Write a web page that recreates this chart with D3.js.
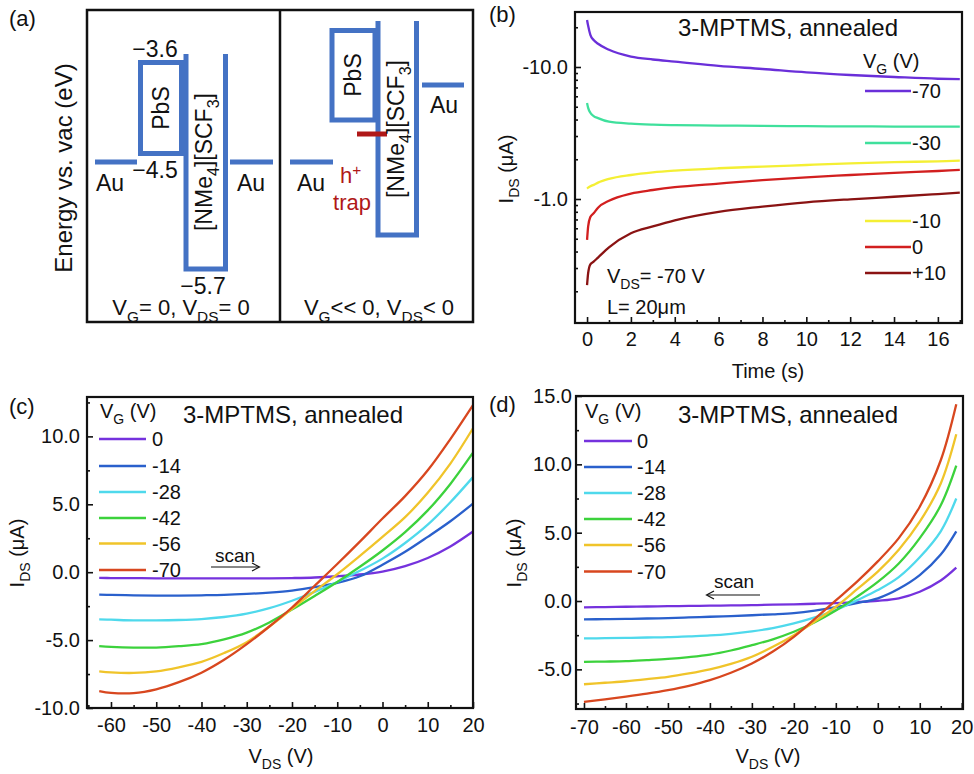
<!DOCTYPE html>
<html><head><meta charset="utf-8">
<script src="https://cdn.jsdelivr.net/npm/d3@7"></script>
<style>
body{margin:0;background:#fff}
svg{display:block;background:#fff}
text{font-family:"Liberation Sans",Arial,Helvetica,sans-serif;fill:#111}
</style>
</head><body>
<svg id="fig" width="974" height="774"></svg>
<script>
// ================= DATA =================
// Panel (a): energy levels (eV) labelled on the schematic
const levelLabels = ["\u22123.6", "\u22124.5", "\u22125.7"];

// Panel (b): transient I_DS (uA) vs time (s) at V_DS = -70 V
const timeB = [0, 0.05, 0.15, 0.3, 0.5, 1, 2, 3, 4, 6, 8, 10, 12, 14, 16, 17];
const vgB = ["-70", "-30", "-10", "0", "+10"];
const iB_m70 = [-22.7, -20.5, -17.5, -16.0, -15.0, -13.5, -12.0, -11.4, -11.0, -10.2, -9.66, -9.1, -8.7, -8.4, -8.15, -8.1];
const iB_m30 = [-5.33, -4.9, -4.5, -4.25, -4.1, -3.85, -3.72, -3.66, -3.63, -3.6, -3.58, -3.56, -3.55, -3.54, -3.53, -3.53];
const iB_m10 = [-1.2, -1.22, -1.25, -1.28, -1.33, -1.42, -1.52, -1.59, -1.64, -1.71, -1.76, -1.81, -1.86, -1.9, -1.93, -1.95];
const iB_0   = [-0.49, -0.62, -0.73, -0.78, -0.86, -0.97, -1.1, -1.17, -1.23, -1.31, -1.39, -1.46, -1.52, -1.58, -1.63, -1.66];
const iB_p10 = [-0.223, -0.274, -0.32, -0.335, -0.36, -0.43, -0.55, -0.62, -0.69, -0.80, -0.875, -0.944, -0.995, -1.04, -1.09, -1.116];
const yTicksB = [-10, -1];
const xTicksB = [0, 2, 4, 6, 8, 10, 12, 14, 16];

// Panel (c): output curves, scan -> (forward)
const vdsC = [-62.6, -60, -55, -50, -45, -40, -35, -30, -25, -20, -15, -10, -5, 0, 5, 10, 15, 20];
const vgCD = ["0", "-14", "-28", "-42", "-56", "-70"];
const iC_0   = [-0.42, -0.43, -0.44, -0.45, -0.45, -0.45, -0.45, -0.45, -0.45, -0.43, -0.39, -0.3, -0.17, 0.05, 0.45, 1.05, 1.9, 3.0];
const iC_m14 = [-1.65, -1.67, -1.7, -1.72, -1.72, -1.7, -1.67, -1.6, -1.5, -1.35, -1.1, -0.78, -0.3, 0.55, 1.5, 2.6, 3.75, 5.05];
const iC_m28 = [-3.48, -3.5, -3.55, -3.55, -3.52, -3.45, -3.3, -3.05, -2.65, -2.1, -1.45, -0.72, 0.1, 1.0, 2.15, 3.5, 5.15, 7.0];
const iC_m42 = [-5.45, -5.5, -5.55, -5.55, -5.45, -5.3, -4.95, -4.45, -3.7, -2.75, -1.75, -0.72, 0.4, 1.6, 2.95, 4.55, 6.5, 8.8];
const iC_m56 = [-7.3, -7.38, -7.42, -7.3, -7.0, -6.6, -5.95, -5.15, -4.0, -2.7, -1.4, -0.15, 1.2, 2.6, 4.05, 5.85, 8.0, 10.6];
const iC_m70 = [-8.75, -8.88, -8.9, -8.62, -8.1, -7.4, -6.45, -5.3, -4.0, -2.6, -1.0, 0.6, 2.25, 3.95, 5.6, 7.5, 9.8, 12.3];
const xTicksC = [-60, -50, -40, -30, -20, -10, 0, 10, 20];
const yTicksC = [-10, -5, 0, 5, 10];

// Panel (d): output curves, scan <- (reverse)
const vdsD = [-70, -65, -60, -55, -50, -45, -40, -35, -30, -25, -20, -15, -10, -5, 0, 5, 10, 15, 18.7];
const iD_0   = [-0.46, -0.44, -0.42, -0.4, -0.38, -0.36, -0.34, -0.32, -0.3, -0.27, -0.24, -0.2, -0.15, -0.08, 0.02, 0.2, 0.68, 1.5, 2.44];
const iD_m14 = [-1.34, -1.33, -1.31, -1.28, -1.25, -1.2, -1.15, -1.1, -1.04, -0.97, -0.88, -0.7, -0.45, -0.15, 0.2, 0.9, 1.9, 3.4, 5.1];
const iD_m28 = [-2.74, -2.72, -2.7, -2.67, -2.64, -2.58, -2.52, -2.4, -2.22, -1.98, -1.64, -1.2, -0.66, 0.05, 0.8, 1.75, 3.2, 5.1, 7.5];
const iD_m42 = [-4.45, -4.43, -4.4, -4.32, -4.23, -4.1, -3.92, -3.62, -3.23, -2.8, -2.25, -1.55, -0.7, 0.3, 1.4, 2.75, 4.6, 7.0, 9.9];
const iD_m56 = [-6.09, -5.98, -5.87, -5.72, -5.55, -5.3, -5.0, -4.6, -4.08, -3.35, -2.5, -1.5, -0.42, 0.85, 2.15, 3.75, 5.8, 8.6, 12.2];
const iD_m70 = [-7.38, -7.2, -7.0, -6.78, -6.52, -6.2, -5.79, -5.25, -4.57, -3.7, -2.62, -1.3, 0.05, 1.4, 2.9, 4.6, 6.9, 10.3, 14.4];
const xTicksD = [-70, -60, -50, -40, -30, -20, -10, 0, 10, 20];
const yTicksD = [-5, 0, 5, 10, 15];

// ================= STYLE / LAYOUT =================
const colB = ["#6a2fd9", "#3fe09c", "#f4ef34", "#d21f1f", "#8a1313"];
const colCD = ["#7532dd", "#2a60cc", "#4fd9ec", "#3cd23c", "#f0c42a", "#d8471f"];
const BLUE = "#4472c4", TRAP = "#b01818";
const FF = '"Liberation Sans", Arial, Helvetica, sans-serif';

const svg = d3.select("#fig");

function rich(g, x, y, parts, size, o = {}) {
  const t = g.append("text").attr("x", x).attr("y", y).attr("font-size", size);
  if (o.anchor) t.attr("text-anchor", o.anchor);
  if (o.rotate) t.attr("transform", `rotate(-90 ${x} ${y})`);
  if (o.fill) t.style("fill", o.fill);
  let state = 0; // 0 normal, 1 sub, -1 sup
  parts.forEach(p => {
    const [txt, kind] = Array.isArray(p) ? p : [p, 0];
    const s = t.append("tspan").text(txt);
    const shift = size * 0.3;
    let dy = 0;
    if (state === 1) dy -= shift; if (state === -1) dy += size * 0.38;
    if (kind === 1) { dy += shift; s.attr("font-size", size * 0.7); }
    if (kind === -1) { dy -= size * 0.38; s.attr("font-size", size * 0.7); }
    if (dy !== 0) s.attr("dy", dy);
    state = kind;
  });
  return t;
}

function axes(g, xs, ys, xMaj, xMin, yMaj, yMin, xf, yf, xpad, ypad) {
  const [x0, x1] = xs.range();
  const [y0, y1] = ys.range();
  const style = s => {
    s.select(".domain").remove();
    s.attr("font-size", 20).attr("font-family", FF);
    s.selectAll("line").attr("stroke", "#111").attr("stroke-width", 1.6);
  };
  g.append("g").attr("transform", `translate(0,${y0})`)
    .call(d3.axisBottom(xs).tickValues(xMin).tickSize(-3).tickFormat("")).call(style);
  g.append("g").attr("transform", `translate(0,${y0})`)
    .call(d3.axisBottom(xs).tickValues(xMaj).tickSize(-6).tickPadding(xpad).tickFormat(xf)).call(style);
  g.append("g").attr("transform", `translate(${x0},0)`)
    .call(d3.axisLeft(ys).tickValues(yMin).tickSize(-3).tickFormat("")).call(style);
  g.append("g").attr("transform", `translate(${x0},0)`)
    .call(d3.axisLeft(ys).tickValues(yMaj).tickSize(-6).tickPadding(ypad).tickFormat(yf)).call(style);
  g.append("rect").attr("x", x0).attr("y", y1).attr("width", x1 - x0).attr("height", y0 - y1)
    .attr("fill", "none").attr("stroke", "#111").attr("stroke-width", 2.2);
}

function range(a, b, s) { const r = []; for (let v = a; v <= b + 1e-9; v += s) r.push(+v.toFixed(6)); return r; }

// ================= PANEL (a) =================
const ga = svg.append("g");
ga.append("text").attr("x", 9).attr("y", 26).attr("font-size", 22).text("(a)");
ga.append("rect").attr("x", 87).attr("y", 10).attr("width", 386).attr("height", 312)
  .attr("fill", "none").attr("stroke", "#111").attr("stroke-width", 2.5);
ga.append("line").attr("x1", 280).attr("x2", 280).attr("y1", 10).attr("y2", 322)
  .attr("stroke", "#111").attr("stroke-width", 2.5);
rich(ga, 72, 168, ["Energy vs. vac (eV)"], 24, { anchor: "middle", rotate: true });

const bl = (x1, y1, x2, y2, c = BLUE, w = 5) =>
  ga.append("line").attr("x1", x1).attr("y1", y1).attr("x2", x2).attr("y2", y2)
    .attr("stroke", c).attr("stroke-width", w).attr("stroke-linecap", "butt");
const bp = (pts) => ga.append("path").attr("d", d3.line()(pts)).attr("fill", "none")
  .attr("stroke", BLUE).attr("stroke-width", 5).attr("stroke-linejoin", "miter");

// left schematic (V_G = 0)
bl(95, 162, 137, 162);
ga.append("rect").attr("x", 140.5).attr("y", 62.5).attr("width", 41).attr("height", 91)
  .attr("fill", "none").attr("stroke", BLUE).attr("stroke-width", 5);
bp([[186, 54], [186, 269], [225.5, 269], [225.5, 54]]);
bl(230, 162, 273, 162);
rich(ga, 155, 57, [levelLabels[0]], 23, { anchor: "middle" });
rich(ga, 155, 178, [levelLabels[1]], 23, { anchor: "middle" });
rich(ga, 203, 294, [levelLabels[2]], 23, { anchor: "middle" });
rich(ga, 96, 191, ["Au"], 23);
rich(ga, 237, 191, ["Au"], 23);
rich(ga, 169, 108, ["PbS"], 23, { anchor: "middle", rotate: true });
rich(ga, 212, 162, ["[NMe", ["4", 1], "][SCF", ["3", 1], "]"], 23, { anchor: "middle", rotate: true });
rich(ga, 181, 315, ["V", ["G", 1], "= 0, V", ["DS", 1], "= 0"], 22, { anchor: "middle" });

// right schematic (V_G << 0)
bl(290, 162, 333, 162);
ga.append("rect").attr("x", 332).attr("y", 30.5).attr("width", 43).attr("height", 89.5)
  .attr("fill", "none").attr("stroke", BLUE).attr("stroke-width", 5);
bp([[378, 21], [378, 235], [416.5, 235], [416.5, 21]]);
bl(422, 85, 464, 85);
bl(357, 134, 387, 134, TRAP, 5);
rich(ga, 297, 191, ["Au"], 23);
rich(ga, 430, 113, ["Au"], 23);
rich(ga, 361, 75, ["PbS"], 23, { anchor: "middle", rotate: true });
rich(ga, 404, 129, ["[NMe", ["4", 1], "][SCF", ["3", 1], "]"], 23, { anchor: "middle", rotate: true });
rich(ga, 340, 183, ["h", ["+", -1]], 22, { fill: TRAP });
rich(ga, 352, 210, ["trap"], 22, { anchor: "middle", fill: TRAP });
rich(ga, 379, 315, ["V", ["G", 1], "<< 0, V", ["DS", 1], "< 0"], 22, { anchor: "middle" });

// ================= PANEL (b) =================
const gb = svg.append("g");
const bx = d3.scaleLinear().domain([-0.55, 17.1]).range([575, 962]);
const by = d3.scaleLog().domain([0.115, 26.1]).range([323, 12]);
gb.append("text").attr("x", 489).attr("y", 22).attr("font-size", 22).text("(b)");
const seriesB = [iB_m70, iB_m30, iB_m10, iB_0, iB_p10];
const lineB = d3.line().x(d => bx(d[0])).y(d => by(Math.abs(d[1]))).curve(d3.curveMonotoneX);
seriesB.forEach((s, i) => {
  gb.append("path").attr("d", lineB(timeB.map((t, k) => [t, s[k]])))
    .attr("fill", "none").attr("stroke", colB[i]).attr("stroke-width", 2.3);
});
const minorB = [0.2,0.3,0.4,0.5,0.6,0.7,0.8,0.9,2,3,4,5,6,7,8,9,20];
axes(gb, bx, by, xTicksB, range(1, 17, 2), yTicksB.map(Math.abs), minorB,
  d => String(d), d => "-" + d.toFixed(1), 9, 7);
rich(gb, 788, 36, ["3-MPTMS, annealed"], 24, { anchor: "middle" });
rich(gb, 863, 68, ["V", ["G", 1], " (V)"], 20);
const legYB = [91, 143, 221, 247, 273];
vgB.forEach((v, i) => {
  gb.append("line").attr("x1", 865).attr("x2", 911).attr("y1", legYB[i]).attr("y2", legYB[i])
    .attr("stroke", colB[i]).attr("stroke-width", 2.3);
  rich(gb, 912, legYB[i] + 7, [v], 20);
});
rich(gb, 607, 283, ["V", ["DS", 1], "= -70 V"], 20);
rich(gb, 607, 314, ["L= 20\u03bcm"], 20);
rich(gb, 513, 169, ["I", ["DS", 1], " (\u03bcA)"], 20, { anchor: "middle", rotate: true });
rich(gb, 768, 378, ["Time (s)"], 20, { anchor: "middle" });

// ================= PANEL (c) =================
const gc = svg.append("g");
const cx = d3.scaleLinear().domain([-65.3, 20]).range([87, 473]);
const cy = d3.scaleLinear().domain([-10, 12.9]).range([708, 397]);
gc.append("text").attr("x", 9).attr("y", 414).attr("font-size", 22).text("(c)");
const seriesC = [iC_0, iC_m14, iC_m28, iC_m42, iC_m56, iC_m70];
const lineC = d3.line().x(d => cx(d[0])).y(d => cy(d[1])).curve(d3.curveCatmullRom.alpha(0.5));
seriesC.forEach((s, i) => {
  gc.append("path").attr("d", lineC(vdsC.map((v, k) => [v, s[k]])))
    .attr("fill", "none").attr("stroke", colCD[i]).attr("stroke-width", 2.3);
});
axes(gc, cx, cy, xTicksC, range(-65, 15, 10), yTicksC, range(-7.5, 12.5, 5),
  d => String(d), d => d.toFixed(1), 10, 7);
rich(gc, 100, 418, ["V", ["G", 1], " (V)"], 20);
rich(gc, 293, 423, ["3-MPTMS, annealed"], 24, { anchor: "middle" });
const legYC = [439, 466, 492, 518, 543.5, 570];
vgCD.forEach((v, i) => {
  gc.append("line").attr("x1", 99).attr("x2", 146).attr("y1", legYC[i]).attr("y2", legYC[i])
    .attr("stroke", colCD[i]).attr("stroke-width", 2.3);
  rich(gc, 152, legYC[i] + 7, [v], 20);
});
rich(gc, 235, 562, ["scan"], 19, { anchor: "middle" });
gc.append("line").attr("x1", 211).attr("x2", 259).attr("y1", 567).attr("y2", 567).attr("stroke", "#111").attr("stroke-width", 1.2);
gc.append("path").attr("d", "M252,563 L259.5,567 L252,571").attr("fill", "none").attr("stroke", "#111").attr("stroke-width", 1.2);
rich(gc, 24, 553, ["I", ["DS", 1], " (\u03bcA)"], 20, { anchor: "middle", rotate: true });
rich(gc, 281, 763, ["V", ["DS", 1], " (V)"], 20, { anchor: "middle" });

// ================= PANEL (d) =================
const gd = svg.append("g");
const dx = d3.scaleLinear().domain([-71.9, 20.3]).range([576, 963]);
const dy = d3.scaleLinear().domain([-7.9, 15]).range([709, 396]);
gd.append("text").attr("x", 489).attr("y", 412).attr("font-size", 22).text("(d)");
const seriesD = [iD_0, iD_m14, iD_m28, iD_m42, iD_m56, iD_m70];
const lineD = d3.line().x(d => dx(d[0])).y(d => dy(d[1])).curve(d3.curveCatmullRom.alpha(0.5));
seriesD.forEach((s, i) => {
  gd.append("path").attr("d", lineD(vdsD.map((v, k) => [v, s[k]])))
    .attr("fill", "none").attr("stroke", colCD[i]).attr("stroke-width", 2.3);
});
axes(gd, dx, dy, xTicksD, range(-65, 15, 10), yTicksD, range(-7.5, 12.5, 5),
  d => String(d), d => d.toFixed(1), 11, 4);
rich(gd, 585, 418, ["V", ["G", 1], " (V)"], 20);
rich(gd, 788, 423, ["3-MPTMS, annealed"], 24, { anchor: "middle" });
const legYD = [441, 467, 493, 519, 545, 571.5];
vgCD.forEach((v, i) => {
  gd.append("line").attr("x1", 584).attr("x2", 632).attr("y1", legYD[i]).attr("y2", legYD[i])
    .attr("stroke", colCD[i]).attr("stroke-width", 2.3);
  rich(gd, 637, legYD[i] + 7, [v], 20);
});
rich(gd, 734, 588, ["scan"], 19, { anchor: "middle" });
gd.append("line").attr("x1", 707).attr("x2", 760).attr("y1", 595).attr("y2", 595).attr("stroke", "#111").attr("stroke-width", 1.2);
gd.append("path").attr("d", "M714,591 L706.5,595 L714,599").attr("fill", "none").attr("stroke", "#111").attr("stroke-width", 1.2);
rich(gd, 521, 553, ["I", ["DS", 1], " (\u03bcA)"], 20, { anchor: "middle", rotate: true });
rich(gd, 768, 763, ["V", ["DS", 1], " (V)"], 20, { anchor: "middle" });
</script>
</body></html>
